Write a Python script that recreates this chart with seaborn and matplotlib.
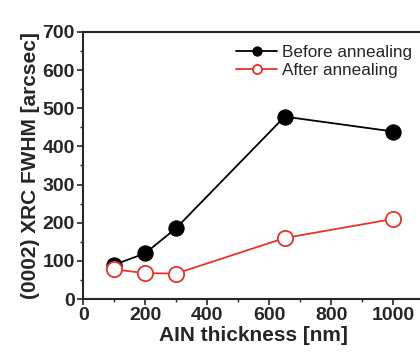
import matplotlib
matplotlib.use("Agg")
import matplotlib.pyplot as plt
import seaborn as sns
import pandas as pd
from matplotlib.ticker import MultipleLocator

thickness = [100, 200, 300, 650, 1000]
before = [90, 120, 186, 478, 439]
after = [78, 68, 67, 160, 210]
series_names = ["Before annealing", "After annealing"]

sns.set_style("ticks")
plt.rcParams['font.family'] = ['Liberation Sans', 'DejaVu Sans']

df = pd.DataFrame({
    "x": thickness * 2,
    "y": before + after,
    "s": [series_names[0]] * len(thickness) + [series_names[1]] * len(thickness),
})

fig = plt.figure(figsize=(4.2, 3.54), dpi=100)
ax = fig.add_axes([0.198, 0.155, 0.812, 0.755])

sns.lineplot(data=df[df.s == series_names[0]], x="x", y="y", ax=ax, color="black",
             marker="o", markersize=11, markerfacecolor="black", markeredgecolor="black",
             linewidth=1.3, label=series_names[0])
sns.lineplot(data=df[df.s == series_names[1]], x="x", y="y", ax=ax, color="#e8322a",
             marker="o", markersize=11, markerfacecolor="white", markeredgecolor="#e8322a",
             markeredgewidth=1.3, linewidth=1.3, label=series_names[1])

ax.set_xlim(0, 1100)
ax.set_ylim(0, 700)
ax.xaxis.set_major_locator(MultipleLocator(200))
ax.xaxis.set_minor_locator(MultipleLocator(100))
ax.yaxis.set_major_locator(MultipleLocator(100))
ax.yaxis.set_minor_locator(MultipleLocator(50))
ax.tick_params(which="major", direction="out", length=4, width=1.2, labelsize=14, pad=2)
ax.tick_params(which="minor", direction="out", length=2.5, width=1)
for lab in ax.get_xticklabels() + ax.get_yticklabels():
    lab.set_fontweight("bold")
for sp in ["left", "bottom", "top"]:
    ax.spines[sp].set_linewidth(1.5)
ax.spines["right"].set_visible(False)

ax.set_xlabel("AIN thickness [nm]", fontsize=15, fontweight="bold", labelpad=1)
ax.set_ylabel("(0002) XRC FWHM [arcsec]", fontsize=15, fontweight="bold", labelpad=2)

leg = ax.legend(loc="upper right", frameon=False, fontsize=12.3, handlelength=2.4,
                handletextpad=0.3, borderaxespad=0.2, labelspacing=0.2,
                bbox_to_anchor=(0.995, 0.99), markerscale=0.6)

fig.savefig("out.png", dpi=100)
